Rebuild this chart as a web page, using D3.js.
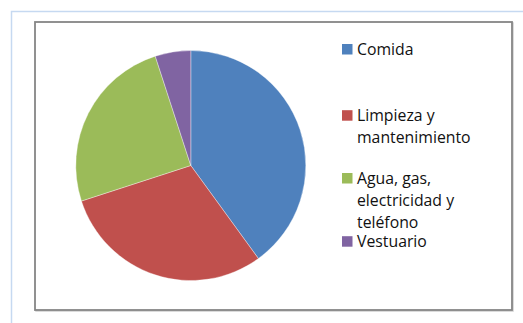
<!DOCTYPE html>
<html>
<head>
<meta charset="utf-8">
<script src="https://cdn.jsdelivr.net/npm/d3@7"></script>
<style>
  html, body { margin: 0; padding: 0; background: #fff; }
  svg { display: block; }
</style>
</head>
<body>
<svg id="chart" width="523" height="323"></svg>
<script>
// Household expense shares (%)
const categories = ["Comida", "Limpieza y mantenimiento", "Agua, gas, electricidad y teléfono", "Vestuario"];
const values = [40, 30, 25, 5];
const colors = ["#4F81BD", "#C0504D", "#9BBB59", "#8064A2"];
// Legend label lines as wrapped in the legend box
const legendLines = [["Comida"], ["Limpieza y", "mantenimiento"], ["Agua, gas,", "electricidad y", "teléfono"], ["Vestuario"]];

const svg = d3.select("#chart");

// Outer light-blue sheet edge
svg.append("path")
  .attr("d", "M11.5,323 V11.5 H523")
  .attr("fill", "none")
  .attr("stroke", "#C6D9F1")
  .attr("stroke-width", 1.5);

// Chart area frame with a soft shadow line
svg.append("rect")
  .attr("x", 36).attr("y", 23).attr("width", 477).attr("height", 288)
  .attr("fill", "none").attr("stroke", "#CFCFCF").attr("stroke-width", 1.5);
svg.append("rect")
  .attr("x", 35).attr("y", 22).attr("width", 477).attr("height", 288)
  .attr("fill", "#fff").attr("stroke", "#868686").attr("stroke-width", 1.8);

// Pie
const cx = 190.8, cy = 165.5, r = 115;
const pie = d3.pie().sort(null).value(d => d)(values);
const arc = d3.arc().innerRadius(0).outerRadius(r);
const color = d3.scaleOrdinal().domain(categories).range(colors);

svg.append("g")
  .attr("transform", `translate(${cx},${cy})`)
  .selectAll("path")
  .data(pie)
  .join("path")
  .attr("d", arc)
  .attr("fill", (d, i) => color(categories[i]))
  .attr("stroke", "#ffffff")
  .attr("stroke-opacity", 0.6)
  .attr("stroke-width", 0.6);

// Legend
const legendX = 342, textX = 357;
const firstBaselines = [54.5, 120.7, 183.5, 246.7];
const lineH = 22;
const font = "'Open Sans', sans-serif";

const legend = svg.append("g");
categories.forEach((c, i) => {
  const base = firstBaselines[i];
  legend.append("rect")
    .attr("x", legendX).attr("y", base - 10.5)
    .attr("width", 10.5).attr("height", 10.5)
    .attr("fill", color(c));
  const t = legend.append("text")
    .attr("x", textX).attr("y", base)
    .attr("font-family", font)
    .attr("font-size", 15.8)
    .attr("fill", "#111");
  legendLines[i].forEach((ln, j) => {
    t.append("tspan").attr("x", textX).attr("y", base + j * lineH).text(ln);
  });
});
</script>
</body>
</html>
